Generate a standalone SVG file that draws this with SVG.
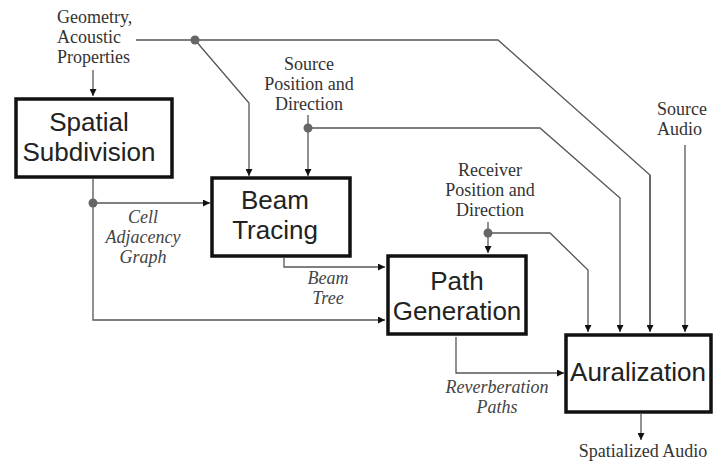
<svg xmlns="http://www.w3.org/2000/svg" width="714" height="461" viewBox="0 0 714 461">
<defs>
<marker id="ah" viewBox="0 0 10 10" refX="10" refY="5" markerWidth="9" markerHeight="7" markerUnits="userSpaceOnUse" orient="auto">
<path d="M0,0 L10,5 L0,10 Z" fill="#111"/>
</marker>
</defs>
<style>
.box{fill:#fff;stroke:#111;stroke-width:3.5}
.bt{font-family:"Liberation Sans",Arial,sans-serif;font-size:26px;fill:#222;text-anchor:middle}
.lb{font-family:"Liberation Serif","Times New Roman",serif;font-size:18px;fill:#333}
.it{font-family:"Liberation Serif","Times New Roman",serif;font-size:18px;font-style:italic;fill:#444;text-anchor:middle}
.c{fill:none;stroke:#555;stroke-width:1.3}
.ca{fill:none;stroke:#555;stroke-width:1.3;marker-end:url(#ah)}
.dot{fill:#666}
</style>
<rect width="714" height="461" fill="#fff"/>
<g id="connectors">
<path class="c" d="M136,40 H498 L650,175 V331"/>
<path class="ca" d="M650,175 V332"/>
<path class="ca" d="M195,40 L249,103 V176"/>
<path class="ca" d="M93,70 V96"/>
<path class="ca" d="M308,115 V176"/>
<path class="ca" d="M308,128 H540 L620,198 V332"/>
<path class="ca" d="M685,145 V332"/>
<path class="ca" d="M488,222 V253"/>
<path class="ca" d="M488,233 H550 L588,270 V332"/>
<path class="ca" d="M93,179 V320 H385"/>
<path class="ca" d="M93,203 H210"/>
<path class="ca" d="M284,258 V267 H385"/>
<path class="ca" d="M456,337 V373 H564"/>
<path class="ca" d="M641,414 V440"/>
<circle class="dot" cx="195" cy="40" r="4.5"/>
<circle class="dot" cx="308" cy="128" r="4.5"/>
<circle class="dot" cx="488" cy="233" r="4.5"/>
<circle class="dot" cx="93" cy="203" r="4.5"/>
</g>
<g id="geometry">
<text class="lb" x="57" y="23">Geometry,</text>
<text class="lb" x="57" y="43">Acoustic</text>
<text class="lb" x="57" y="63">Properties</text>
</g>
<g id="source-position">
<text class="lb" x="309" y="70" text-anchor="middle">Source</text>
<text class="lb" x="309" y="90" text-anchor="middle">Position and</text>
<text class="lb" x="309" y="110" text-anchor="middle">Direction</text>
</g>
<g id="source-audio">
<text class="lb" x="657" y="115">Source</text>
<text class="lb" x="657" y="135">Audio</text>
</g>
<g id="receiver-position">
<text class="lb" x="490" y="176" text-anchor="middle">Receiver</text>
<text class="lb" x="490" y="196" text-anchor="middle">Position and</text>
<text class="lb" x="490" y="216" text-anchor="middle">Direction</text>
</g>
<g id="spatial-subdivision">
<rect class="box" x="16" y="99" width="156" height="78"/>
<text class="bt" x="89" y="131">Spatial</text>
<text class="bt" x="89" y="161">Subdivision</text>
</g>
<g id="beam-tracing">
<rect class="box" x="212" y="178" width="138" height="78"/>
<text class="bt" x="275" y="209">Beam</text>
<text class="bt" x="275" y="239">Tracing</text>
</g>
<g id="path-generation">
<rect class="box" x="388" y="256" width="138" height="78"/>
<text class="bt" x="457" y="290">Path</text>
<text class="bt" x="457" y="320">Generation</text>
</g>
<g id="auralization">
<rect class="box" x="566" y="335" width="145" height="77"/>
<text class="bt" x="638" y="381">Auralization</text>
</g>
<g id="labels">
<text class="it" x="143" y="223">Cell</text>
<text class="it" x="143" y="243">Adjacency</text>
<text class="it" x="143" y="263">Graph</text>
<text class="it" x="328" y="284">Beam</text>
<text class="it" x="328" y="304">Tree</text>
<text class="it" x="497" y="393">Reverberation</text>
<text class="it" x="497" y="413">Paths</text>
<text class="lb" x="643" y="457" text-anchor="middle">Spatialized Audio</text>
</g>
</svg>
